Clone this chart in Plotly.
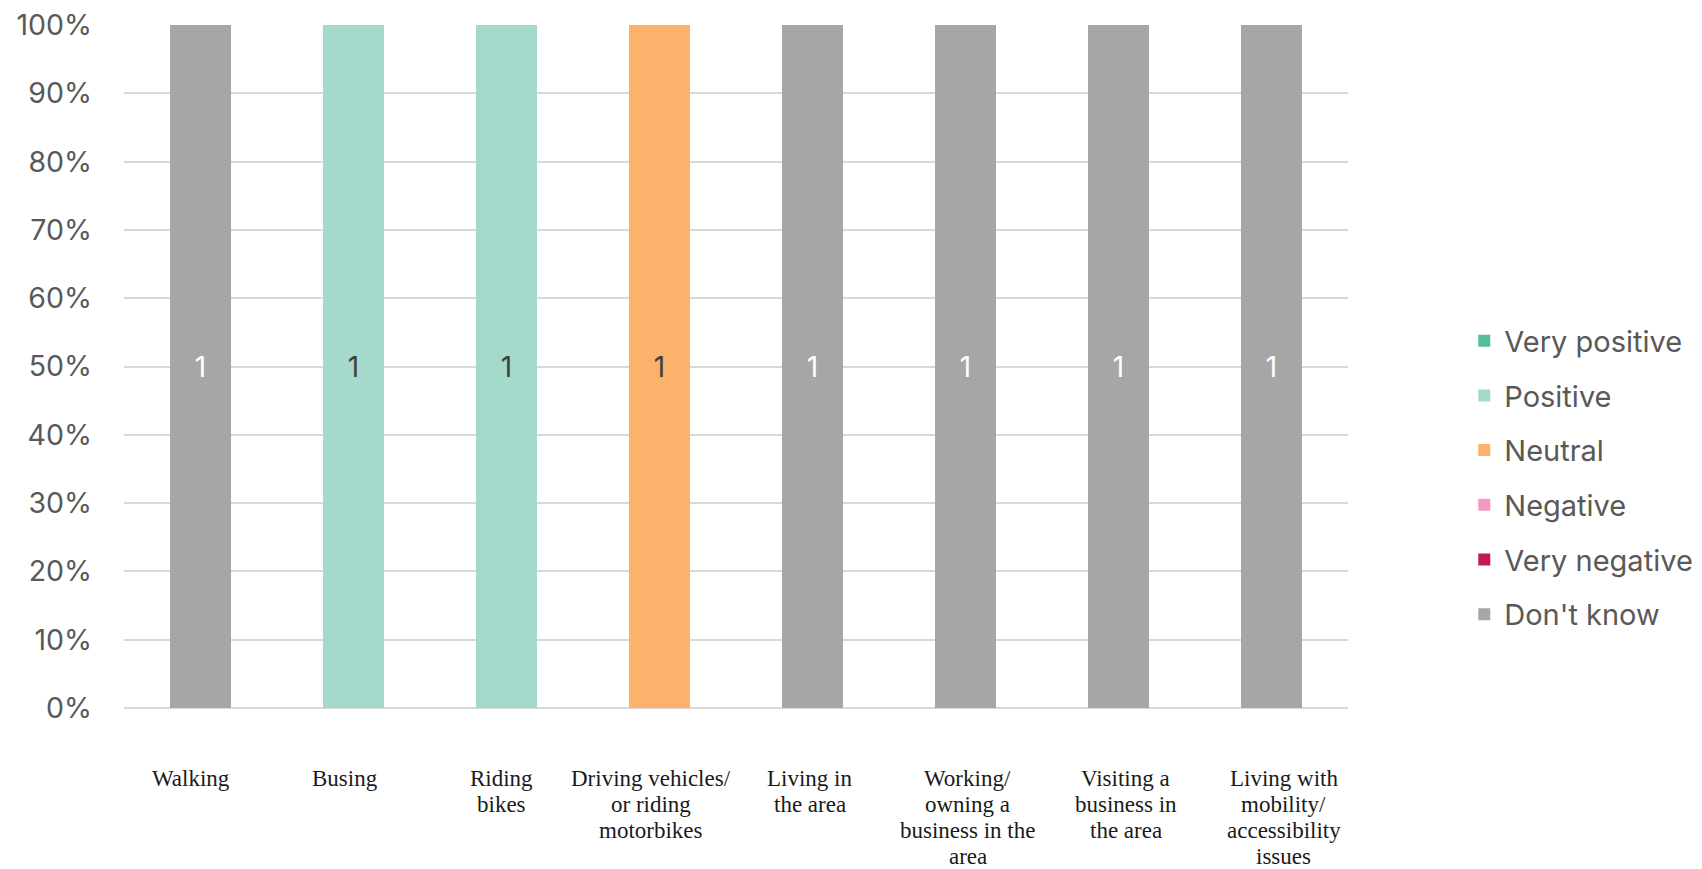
import plotly.graph_objects as go

categories = [
    "Walking",
    "Busing",
    "Riding bikes",
    "Driving vehicles/ or riding motorbikes",
    "Living in the area",
    "Working/ owning a business in the area",
    "Visiting a business in the area",
    "Living with mobility/ accessibility issues",
]
category_label_lines = [
    ["Walking"],
    ["Busing"],
    ["Riding", "bikes"],
    ["Driving vehicles/", "or riding", "motorbikes"],
    ["Living in", "the area"],
    ["Working/", "owning a", "business in the", "area"],
    ["Visiting a", "business in", "the area"],
    ["Living with", "mobility/", "accessibility", "issues"],
]
y_tick_values = [0, 10, 20, 30, 40, 50, 60, 70, 80, 90, 100]
y_tick_labels = ["0%", "10%", "20%", "30%", "40%", "50%", "60%", "70%", "80%", "90%", "100%"]

very_positive = [0, 0, 0, 0, 0, 0, 0, 0]
positive = [0, 1, 1, 0, 0, 0, 0, 0]
neutral = [0, 0, 0, 1, 0, 0, 0, 0]
negative = [0, 0, 0, 0, 0, 0, 0, 0]
very_negative = [0, 0, 0, 0, 0, 0, 0, 0]
dont_know = [1, 0, 0, 0, 1, 1, 1, 1]

series = [
    ("Very positive", very_positive, "#52BE9A", "#404040"),
    ("Positive", positive, "#A5D9CB", "#404040"),
    ("Neutral", neutral, "#FDB26B", "#404040"),
    ("Negative", negative, "#F39AC2", "#404040"),
    ("Very negative", very_negative, "#C2185B", "#FFFFFF"),
    ("Don't know", dont_know, "#A6A6A6", "#FFFFFF"),
]

# label styling (px nudges / spacing), not data
label_shift = [-10, -9, -5, -9, -3, 2, 7, 12]
label_first_offset = 70
label_line_height = 26

fig = go.Figure()
for name, vals, color, tcolor in series:
    fig.add_trace(go.Bar(
        name=name,
        x=categories,
        y=vals,
        marker=dict(color=color, line=dict(width=0)),
        text=["" if v == 0 else str(v) for v in vals],
        texttemplate="%{text}",
        textposition="inside",
        insidetextanchor="middle",
        textfont=dict(family="Inter, sans-serif", size=28, color=tcolor),
        legendgroup=name,
    ))

for cat, lines, dx in zip(categories, category_label_lines, label_shift):
    for i, line in enumerate(lines):
        fig.add_annotation(
            x=cat, xref="x", y=0, yref="paper",
            text=line, showarrow=False,
            xanchor="center", yanchor="middle", align="center",
            xshift=dx, yshift=-(label_first_offset + i * label_line_height),
            borderpad=0,
            font=dict(family="Liberation Serif, serif", size=23, color="#1a1a1a"),
        )

fig.update_layout(
    barmode="stack",
    barnorm="percent",
    bargap=0.6,
    width=1702,
    height=869,
    margin=dict(l=124, r=354, t=25, b=161, autoexpand=False),
    paper_bgcolor="white",
    plot_bgcolor="white",
    font=dict(family="Inter, sans-serif", color="#595959"),
    legend=dict(
        x=1.095, xanchor="left",
        y=0.337, yanchor="middle",
        traceorder="grouped",
        tracegroupgap=14,
        font=dict(family="Inter, sans-serif", size=29, color="#595959"),
        itemwidth=30,
    ),
    showlegend=True,
)

fig.update_yaxes(
    range=[0, 100],
    tickmode="array",
    tickvals=y_tick_values,
    ticktext=y_tick_labels,
    showgrid=True,
    gridcolor="#D9D9D9",
    gridwidth=2,
    zeroline=True,
    zerolinecolor="#D9D9D9",
    zerolinewidth=2,
    showline=False,
    ticks="",
    tickfont=dict(family="Inter, sans-serif", size=28.5, color="#595959"),
    ticklabelstandoff=31,
)

fig.update_xaxes(
    showgrid=False,
    showline=False,
    ticks="",
    showticklabels=False,
)

fig.write_html("out.html")
